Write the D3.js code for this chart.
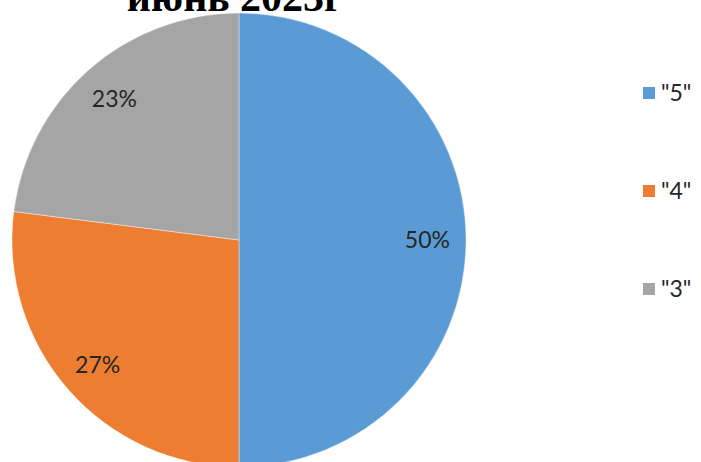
<!DOCTYPE html>
<html><head><meta charset="utf-8">
<script src="https://cdn.jsdelivr.net/npm/d3@7"></script>
<style>html,body{margin:0;padding:0;background:#fff;overflow:hidden}</style>
</head><body>
<svg id="chart" width="701" height="462"></svg>
<script>
const title = "июнь 2023г";
const categories = ['"5"', '"4"', '"3"'];
const values = [50, 27, 23];
const colors = ["#5B9BD5", "#ED7D31", "#A5A5A5"];

const svg = d3.select("#chart");
const cx = 239, cy = 240, r = 227;
const labelFont = "Lato, 'Open Sans', sans-serif";

svg.append("text").attr("x", 235).attr("y", 11).attr("text-anchor", "middle")
  .attr("font-family", "'Liberation Serif','Times New Roman',serif").attr("font-weight", "bold")
  .attr("font-size", 42).attr("fill", "#000").text(title);

const data = categories.map((c, i) => ({cat: c, value: values[i], color: colors[i]}));
const pie = d3.pie().sort(null).value(d => d.value);
const arcs = pie(data);
const arc = d3.arc().innerRadius(0).outerRadius(r);
const labelArc = d3.arc().innerRadius(r * 0.83).outerRadius(r * 0.83);

const g = svg.append("g").attr("transform", `translate(${cx},${cy})`);
g.selectAll("path").data(arcs).join("path")
  .attr("d", arc).attr("fill", d => d.data.color)
  .attr("stroke", "#fff").attr("stroke-width", 0.4);

g.selectAll("text").data(arcs).join("text")
  .attr("transform", d => `translate(${labelArc.centroid(d)})`)
  .attr("text-anchor", "middle").attr("dy", "0.36em")
  .attr("font-family", labelFont).attr("font-size", 23).attr("fill", "#262626")
  .text(d => Math.round(d.value / d3.sum(values) * 100) + "%");

const leg = svg.append("g").attr("transform", "translate(643,0)");
const ly = d3.scalePoint().domain(categories).range([93, 289]);
const items = leg.selectAll("g").data(data).join("g")
  .attr("transform", d => `translate(0,${ly(d.cat)})`);
items.append("rect").attr("x", 0).attr("y", -6).attr("width", 12).attr("height", 12)
  .attr("fill", d => d.color);
items.append("text").attr("x", 18).attr("dy", "0.36em")
  .attr("font-family", labelFont).attr("font-size", 23).attr("fill", "#262626")
  .text(d => d.cat);
</script>
</body></html>
